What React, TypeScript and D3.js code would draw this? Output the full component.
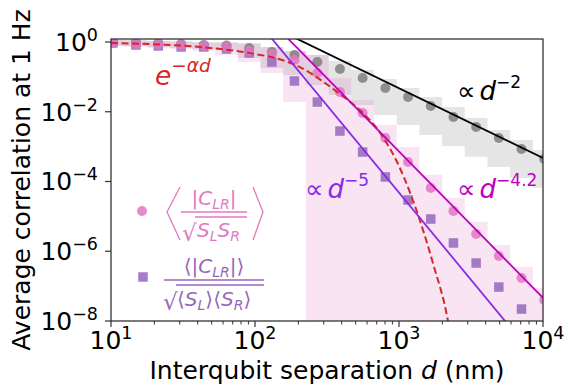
import React, { useEffect, useRef } from "react";
import * as d3 from "d3";

// bin centres (nm)
const separationNm = [
  10.3, 14.9, 21.3, 30.7, 44.1, 63.4, 91.1, 131, 188, 271, 389, 559, 804, 1156,
  1661, 2388, 3433, 4934, 7093, 10190,
];

// grey circles + their band
const grayCorr = [
  1.0, 0.935, 0.935, 0.877, 0.82, 0.79, 0.673, 0.517, 0.424, 0.267, 0.168,
  0.0929, 0.048, 0.0265, 0.0146, 0.00706, 0.00366, 0.00177, 0.000855, 0.000442,
];
const grayUpper = [
  1.14, 1.14, 1.07, 1.07, 1.0, 1.0, 0.936, 0.719, 0.552, 0.424, 0.286, 0.158,
  0.087, 0.048, 0.0265, 0.0137, 0.00664, 0.00302, 0.00156, 0.0008,
];
const grayLower = [
  0.768, 0.768, 0.719, 0.673, 0.63, 0.59, 0.348, 0.18, 0.113, 0.0586, 0.0303,
  0.0157, 0.0081, 0.0042, 0.00216, 0.00105, 0.00051, 0.00026, 0.000127,
  0.000066,
];

// <|C|/sqrt(S S)>  (pink circles) + band
const normMean = [
  0.935, 0.877, 0.877, 0.82, 0.768, 0.719, 0.552, 0.453, 0.305, 0.129, 0.0368,
  0.0092, 0.00177, 3.62e-4, 6.5e-5, 1.43e-5, 3.13e-6, 7.3e-7, 1.71e-7, 4.0e-8,
];
const pinkUpper = [
  1.14, 1.07, 1.07, 1.0, 0.936, 0.936, 0.877, 0.719, 0.552, 0.424, 0.093,
  0.0218, 0.0042, 9.8e-4, 1.55e-4, 3.4e-5, 7.0e-6, 1.5e-6, 3.6e-7, 8.9e-8,
];
const pinkLower = [
  0.768, 0.719, 0.673, 0.63, 0.552, 0.424, 0.267, 0.13, 0.019, 1e-10, 1e-10,
  1e-10, 1e-10, 1e-10, 1e-10, 1e-10, 1e-10, 1e-10, 1e-10, 1e-10,
];

// <|C|>/sqrt(<S><S>)  (purple squares)
const meanNorm = [
  0.935, 0.82, 0.768, 0.719, 0.719, 0.63, 0.484, 0.267, 0.0762, 0.019, 0.0028,
  7.0e-4, 1.35e-4, 2.95e-5, 8.4e-6, 1.73e-6, 4.6e-7, 9.4e-8, 2.2e-8, 5e-9,
];

// fits
const expFitD = [10, 18.7, 41.5, 92.3, 156, 205, 282, 389, 553, 738, 1016, 1399, 1722, 2188, 2500];
const expFitV = [0.93, 0.87, 0.72, 0.48, 0.3, 0.19, 0.085, 0.032, 0.0098, 0.0025, 2.4e-4, 7.5e-6, 4.5e-7, 1.0e-8, 3e-10];
const pow2D = [150, 10000];
const pow2V = [2.1, 4.7e-4];
const pow42D = [100, 10000];
const pow42V = [11.5, 4.6e-8];
const pow5D = [100, 10000];
const pow5V = [4.8, 4.8e-10];

const xTicks = [10, 100, 1000, 10000];
const xTickExp = ["1", "2", "3", "4"];
const yTicks = [1, 1e-2, 1e-4, 1e-6, 1e-8];
const yTickExp = ["0", "\u22122", "\u22124", "\u22126", "\u22128"];

const FONT = "DejaVu Sans, sans-serif";
const PINK = "#e377c2";
const PURPLE = "#9467bd";

export default function App() {
  const svgRef = useRef<SVGSVGElement | null>(null);

  useEffect(() => {
    if (!svgRef.current) return;
    const svg = d3.select(svgRef.current);
    svg.selectAll("*").remove();

    const W = 568;
    const H = 386;
    const margin = { top: 39, right: 25, bottom: 65, left: 111 };
    const x0 = margin.left;
    const x1 = W - margin.right;
    const y0 = margin.top;
    const y1 = H - margin.bottom;

    const x = d3.scaleLog().domain([10, 1e4]).range([x0, x1]);
    const y = d3
      .scaleLog()
      .domain([1e-8, Math.pow(10, 0.086)])
      .range([y1, y0]);

    svg.attr("width", W).attr("height", H).style("font-family", FONT);
    svg.append("rect").attr("width", W).attr("height", H).attr("fill", "white");

    svg
      .append("defs")
      .append("clipPath")
      .attr("id", "plot-clip")
      .append("rect")
      .attr("x", x0)
      .attr("y", y0)
      .attr("width", x1 - x0)
      .attr("height", y1 - y0);

    const plot = svg.append("g").attr("clip-path", "url(#plot-clip)");

    // step bands, one flat segment per bin (edges at geometric midpoints)
    const edges = separationNm.map((d, i) => {
      const prev = i > 0 ? separationNm[i - 1] : (d * d) / separationNm[1];
      const next =
        i < separationNm.length - 1
          ? separationNm[i + 1]
          : (d * d) / separationNm[i - 1];
      return [Math.sqrt(prev * d), Math.sqrt(d * next)];
    });
    const bandPts = (lo: number[], hi: number[]) =>
      edges.flatMap((e, i) => [
        { d: e[0], lo: lo[i], hi: hi[i] },
        { d: e[1], lo: lo[i], hi: hi[i] },
      ]);
    const area = d3
      .area<{ d: number; lo: number; hi: number }>()
      .x((p) => x(p.d))
      .y0((p) => y(p.lo))
      .y1((p) => y(p.hi));

    plot
      .append("path")
      .attr("d", area(bandPts(grayLower, grayUpper)))
      .attr("fill", "#7f7f7f")
      .attr("fill-opacity", 0.2);
    plot
      .append("path")
      .attr("d", area(bandPts(pinkLower, pinkUpper)))
      .attr("fill", PINK)
      .attr("fill-opacity", 0.2);

    // markers
    plot
      .selectAll(".gray-pt")
      .data(grayCorr)
      .join("circle")
      .attr("cx", (_, i) => x(separationNm[i]))
      .attr("cy", (v) => y(v))
      .attr("r", 5)
      .attr("fill", "#7f7f7f")
      .attr("fill-opacity", 0.85);

    const sq = 9.5;
    plot
      .selectAll(".sq-pt")
      .data(meanNorm)
      .join("rect")
      .attr("x", (_, i) => x(separationNm[i]) - sq / 2)
      .attr("y", (v) => y(v) - sq / 2)
      .attr("width", sq)
      .attr("height", sq)
      .attr("fill", PURPLE)
      .attr("fill-opacity", 0.85);

    plot
      .selectAll(".pink-pt")
      .data(normMean)
      .join("circle")
      .attr("cx", (_, i) => x(separationNm[i]))
      .attr("cy", (v) => y(v))
      .attr("r", 5)
      .attr("fill", PINK)
      .attr("fill-opacity", 0.85);

    // fit lines
    const line = d3
      .line<[number, number]>()
      .x((p) => x(p[0]))
      .y((p) => y(p[1]));
    const zip = (a: number[], b: number[]) =>
      a.map((v, i) => [v, b[i]] as [number, number]);

    plot
      .append("path")
      .attr("d", line.curve(d3.curveMonotoneX)(zip(expFitD, expFitV)))
      .attr("fill", "none")
      .attr("stroke", "#d62728")
      .attr("stroke-width", 2)
      .attr("stroke-dasharray", "7,3.5");
    line.curve(d3.curveLinear);
    plot
      .append("path")
      .attr("d", line(zip(pow2D, pow2V)))
      .attr("fill", "none")
      .attr("stroke", "black")
      .attr("stroke-width", 1.8);
    plot
      .append("path")
      .attr("d", line(zip(pow42D, pow42V)))
      .attr("fill", "none")
      .attr("stroke", "#bf00bf")
      .attr("stroke-width", 1.8);
    plot
      .append("path")
      .attr("d", line(zip(pow5D, pow5V)))
      .attr("fill", "none")
      .attr("stroke", "#8a2be2")
      .attr("stroke-width", 1.8);

    // frame
    svg
      .append("rect")
      .attr("x", x0)
      .attr("y", y0)
      .attr("width", x1 - x0)
      .attr("height", y1 - y0)
      .attr("fill", "none")
      .attr("stroke", "#333")
      .attr("stroke-width", 1.3);

    // x ticks
    const minor: number[] = [];
    for (let dec = 10; dec < 1e4; dec *= 10)
      for (let k = 2; k < 10; k++) minor.push(dec * k);
    svg
      .selectAll(".xminor")
      .data(minor)
      .join("line")
      .attr("x1", (v) => x(v))
      .attr("x2", (v) => x(v))
      .attr("y1", y1)
      .attr("y2", y1 + 3.5)
      .attr("stroke", "#333")
      .attr("stroke-width", 1);
    svg
      .selectAll(".xmajor")
      .data(xTicks)
      .join("line")
      .attr("x1", (v) => x(v))
      .attr("x2", (v) => x(v))
      .attr("y1", y1)
      .attr("y2", y1 + 6)
      .attr("stroke", "#333")
      .attr("stroke-width", 1.2);
    xTicks.forEach((v, i) => {
      const t = svg
        .append("text")
        .attr("x", x(v))
        .attr("y", 349)
        .attr("text-anchor", "middle")
        .attr("font-size", 25)
        .attr("fill", "black")
        .text("10");
      t.append("tspan").attr("dy", -10).attr("font-size", 17.5).text(xTickExp[i]);
    });

    // y ticks
    svg
      .selectAll(".ymajor")
      .data(yTicks)
      .join("line")
      .attr("x1", x0 - 6)
      .attr("x2", x0)
      .attr("y1", (v) => y(v))
      .attr("y2", (v) => y(v))
      .attr("stroke", "#333")
      .attr("stroke-width", 1.2);
    yTicks.forEach((v, i) => {
      const t = svg
        .append("text")
        .attr("x", 98)
        .attr("y", y(v) + 9)
        .attr("text-anchor", "end")
        .attr("font-size", 25)
        .attr("fill", "black")
        .text("10");
      t.append("tspan").attr("dy", -10).attr("font-size", 17.5).text(yTickExp[i]);
    });

    // axis titles
    const xl = svg
      .append("text")
      .attr("x", (x0 + x1) / 2)
      .attr("y", 379)
      .attr("text-anchor", "middle")
      .attr("font-size", 25)
      .text("Interqubit separation ");
    xl.append("tspan").attr("font-style", "italic").text("d");
    xl.append("tspan").text(" (nm)");

    svg
      .append("text")
      .attr("transform", `translate(30,${(y0 + y1) / 2}) rotate(-90)`)
      .attr("text-anchor", "middle")
      .attr("font-size", 25)
      .text("Average correlation at 1 Hz");

    // fit annotations
    const powLabel = (
      px: number,
      py: number,
      color: string,
      exp: string,
    ) => {
      const t = svg
        .append("text")
        .attr("x", px)
        .attr("y", py)
        .attr("font-size", 26)
        .attr("fill", color)
        .text("\u221D");
      t.append("tspan").attr("dx", 4).attr("font-style", "italic").text("d");
      t.append("tspan").attr("dy", -12).attr("font-size", 17).text(exp);
    };
    powLabel(457, 100, "black", "\u22122");
    powLabel(457, 198, "#bf00bf", "\u22124.2");
    powLabel(305, 198, "#8a2be2", "\u22125");

    const et = svg
      .append("text")
      .attr("x", 155)
      .attr("y", 85)
      .attr("font-size", 26.5)
      .attr("fill", "#d62728")
      .attr("font-style", "italic")
      .text("e");
    et.append("tspan").attr("dy", -13).attr("font-size", 18.5).text("\u2212\u03B1d");

    // legend: pink entry
    const lg = svg.append("g");
    lg.append("circle").attr("cx", 142).attr("cy", 211).attr("r", 5).attr("fill", PINK).attr("fill-opacity", 0.85);
    lg.append("path")
      .attr("d", "M180,187 L167,212 L180,240 M253,187 L263,212 L253,240")
      .attr("fill", "none")
      .attr("stroke", PINK)
      .attr("stroke-width", 1.3);
    const n1 = lg
      .append("text")
      .attr("x", 214)
      .attr("y", 205)
      .attr("text-anchor", "middle")
      .attr("font-size", 20)
      .attr("fill", PINK)
      .text("|");
    n1.append("tspan").attr("font-style", "italic").text("C");
    n1.append("tspan").attr("font-style", "italic").attr("font-size", 14).attr("dy", 4).text("LR");
    n1.append("tspan").attr("dy", -4).text("|");
    lg.append("line").attr("x1", 181).attr("x2", 247).attr("y1", 212).attr("y2", 212).attr("stroke", PINK).attr("stroke-width", 1.3);
    lg.append("text").attr("x", 182).attr("y", 241).attr("font-size", 23).attr("fill", PINK).text("\u221A");
    lg.append("line").attr("x1", 195).attr("x2", 247).attr("y1", 217).attr("y2", 217).attr("stroke", PINK).attr("stroke-width", 1.3);
    const d1 = lg
      .append("text")
      .attr("x", 197)
      .attr("y", 237)
      .attr("font-size", 20)
      .attr("font-style", "italic")
      .attr("fill", PINK)
      .text("S");
    d1.append("tspan").attr("font-size", 14).attr("dy", 4).text("L");
    d1.append("tspan").attr("dy", -4).text("S");
    d1.append("tspan").attr("font-size", 14).attr("dy", 4).text("R");

    // legend: purple entry
    lg.append("rect").attr("x", 143 - sq / 2).attr("y", 277 - sq / 2).attr("width", sq).attr("height", sq).attr("fill", PURPLE).attr("fill-opacity", 0.85);
    const n2 = lg
      .append("text")
      .attr("x", 214)
      .attr("y", 273)
      .attr("text-anchor", "middle")
      .attr("font-size", 20)
      .attr("fill", PURPLE)
      .text("\u27E8|");
    n2.append("tspan").attr("font-style", "italic").text("C");
    n2.append("tspan").attr("font-style", "italic").attr("font-size", 14).attr("dy", 4).text("LR");
    n2.append("tspan").attr("dy", -4).text("|\u27E9");
    lg.append("line").attr("x1", 164).attr("x2", 264).attr("y1", 280).attr("y2", 280).attr("stroke", PURPLE).attr("stroke-width", 1.3);
    lg.append("text").attr("x", 163).attr("y", 310).attr("font-size", 23).attr("fill", PURPLE).text("\u221A");
    lg.append("line").attr("x1", 176).attr("x2", 264).attr("y1", 285).attr("y2", 285).attr("stroke", PURPLE).attr("stroke-width", 1.3);
    const d2 = lg
      .append("text")
      .attr("x", 177)
      .attr("y", 306)
      .attr("font-size", 20)
      .attr("fill", PURPLE)
      .text("\u27E8");
    d2.append("tspan").attr("font-style", "italic").text("S");
    d2.append("tspan").attr("font-style", "italic").attr("font-size", 14).attr("dy", 4).text("L");
    d2.append("tspan").attr("dy", -4).text("\u27E9\u27E8");
    d2.append("tspan").attr("font-style", "italic").text("S");
    d2.append("tspan").attr("font-style", "italic").attr("font-size", 14).attr("dy", 4).text("R");
    d2.append("tspan").attr("dy", -4).text("\u27E9");
  }, []);

  return (
    <svg
      ref={svgRef}
      style={{ position: "absolute", left: 0, top: 0, display: "block" }}
    />
  );
}
